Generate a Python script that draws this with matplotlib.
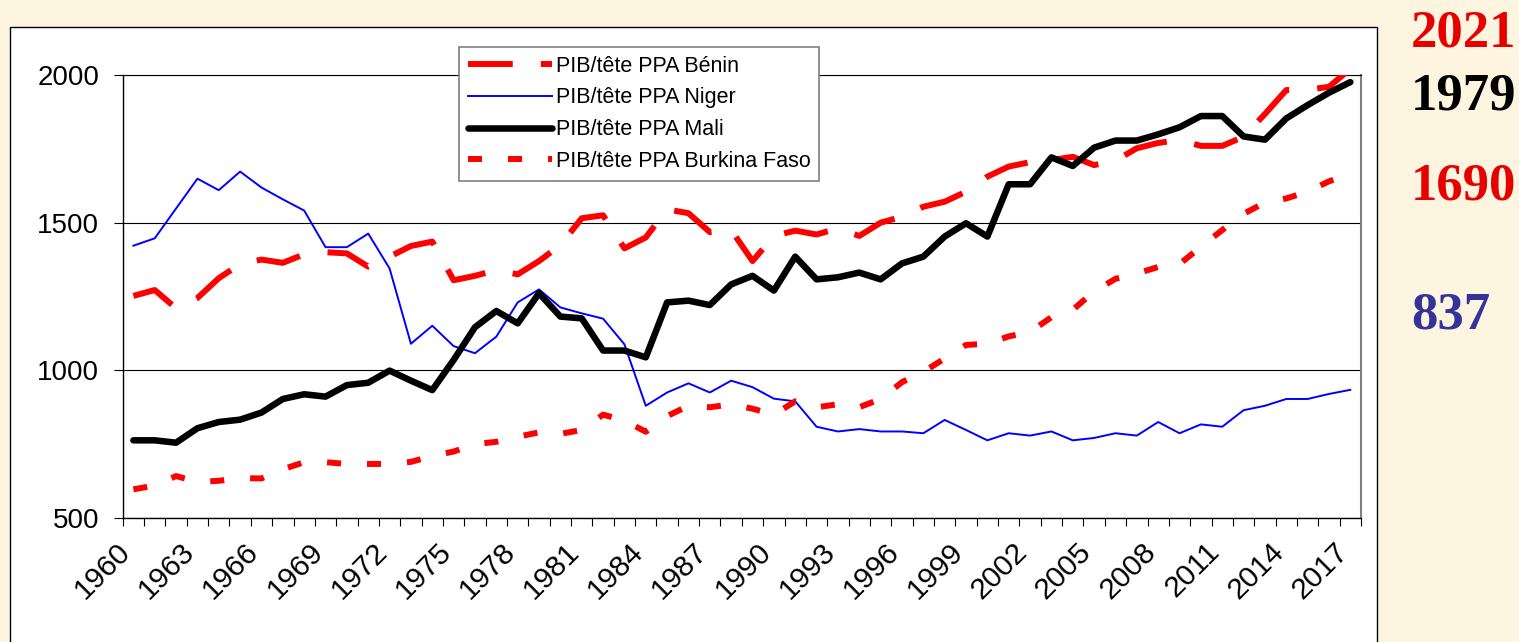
import numpy as np
import matplotlib
matplotlib.use("Agg")
import matplotlib.pyplot as plt
from matplotlib.patches import Rectangle
from matplotlib.transforms import ScaledTranslation

# values (PIB/tête PPA, 1960-2017)
years = list(range(1960, 2018))

benin = [1252, 1272, 1210, 1245, 1312, 1360, 1375, 1364, 1393, 1400,
         1396, 1351, 1385, 1421, 1436, 1305, 1320, 1340, 1325, 1370,
         1424, 1515, 1525, 1413, 1450, 1545, 1532, 1468, 1475, 1370,
         1455, 1473, 1460, 1481, 1455, 1500, 1520, 1554, 1571, 1605,
         1656, 1690, 1705, 1712, 1723, 1695, 1710, 1752, 1770, 1780,
         1760, 1760, 1791, 1868, 1949, 1950, 1960, 2021]

niger = [1422, 1447, 1548, 1649, 1610, 1673, 1619, 1579, 1541, 1417,
         1417, 1463, 1345, 1090, 1151, 1082, 1058, 1114, 1230, 1274,
         1213, 1193, 1175, 1088, 880, 925, 956, 925, 965, 943,
         904, 895, 809, 793, 801, 793, 793, 787, 832, 798,
         763, 787, 779, 793, 763, 771, 787, 779, 825, 787,
         817, 809, 865, 880, 903, 903, 920, 934]

mali = [763, 763, 755, 804, 825, 833, 857, 903, 919, 911,
        950, 958, 999, 965, 933, 1035, 1146, 1201, 1159, 1261,
        1182, 1176, 1067, 1067, 1044, 1230, 1236, 1221, 1291, 1320,
        1270, 1385, 1308, 1315, 1331, 1308, 1362, 1385, 1453, 1498,
        1453, 1630, 1630, 1721, 1692, 1754, 1778, 1778, 1799, 1823,
        1861, 1861, 1792, 1781, 1853, 1898, 1940, 1976]

burkina = [597, 610, 642, 622, 626, 635, 634, 665, 689, 689,
           683, 683, 683, 690, 710, 725, 750, 758, 775, 790,
           785, 798, 850, 830, 792, 845, 880, 875, 885, 870,
           850, 895, 875, 885, 875, 903, 960, 995, 1040, 1086,
           1090, 1115, 1130, 1180, 1205, 1267, 1310, 1328, 1350, 1360,
           1418, 1475, 1530, 1568, 1582, 1605, 1640, 1665]

labels = ["PIB/tête PPA Bénin", "PIB/tête PPA Niger",
          "PIB/tête PPA Mali", "PIB/tête PPA Burkina Faso"]

side_values = ["2021", "1979", "1690", "837"]
side_colors = ["#E60000", "black", "#E60000", "#333399"]
side_base = [46.7, 110, 200, 328.3]  # baseline in pixels from top

plt.rcParams['font.family'] = ['Liberation Sans', 'DejaVu Sans']

W, H = 1519, 642
fig = plt.figure(figsize=(W / 100, H / 100), dpi=100, facecolor='#FEF5E1')

# white chart area with black border
fig.patches.append(Rectangle((10 / W, -0.02), (1377 - 10) / W, 1 - 27 / H + 0.02,
                             transform=fig.transFigure, facecolor='white',
                             edgecolor='black', linewidth=1.0, zorder=-1))

ax = fig.add_axes([122.7 / W, 1 - 518 / H, (1361 - 122.7) / W, (518 - 75) / H])
ax.set_facecolor('white')

x = np.arange(len(years))
ax.plot(x, benin, color='#FF0000', lw=4.3, dashes=(7.5, 4.7),
        dash_capstyle='butt', label=labels[0], zorder=3)
ax.plot(x, niger, color='#0000FF', lw=1.4, label=labels[1], zorder=3)
ax.plot(x, mali, color='black', lw=4.7, solid_joinstyle='round',
        solid_capstyle='round', label=labels[2], zorder=3)
ax.plot(x, burkina, color='#FF0000', lw=4.3, dashes=(2.35, 4.35),
        dash_capstyle='butt', label=labels[3], zorder=3)

ax.set_xlim(-0.5, len(years) - 0.5)
ax.set_ylim(500, 2000)
ax.set_yticks([500, 1000, 1500, 2000])
ax.yaxis.grid(True, color='black', lw=0.8)
ax.set_axisbelow(True)

ax.set_xticks(x[::3])
ax.set_xticklabels([str(y) for y in years[::3]], rotation=45, ha='right',
                   va='center', rotation_mode='anchor')
ax.set_xticks(np.arange(-0.5, len(years), 1), minor=True)
ax.tick_params(axis='x', which='major', length=0, pad=21, labelsize=21.5)
ax.tick_params(axis='x', which='minor', length=6, width=0.8, direction='out')
ax.tick_params(axis='y', length=6.5, width=0.8, direction='out', pad=10.5, labelsize=20)
for lab in ax.get_xticklabels():
    lab.set_transform(lab.get_transform() + ScaledTranslation(-0.07, 0, fig.dpi_scale_trans))

ax.spines['top'].set_linewidth(0.8)
ax.spines['right'].set_color('#808080')
ax.spines['right'].set_linewidth(1.5)
ax.spines['left'].set_linewidth(1.0)
ax.spines['bottom'].set_linewidth(1.0)

leg = ax.legend(loc='upper left', bbox_to_anchor=(459 / W, 1 - 47 / H),
                bbox_transform=fig.transFigure, fontsize=15.5, frameon=True,
                fancybox=False, framealpha=1, edgecolor='#808080',
                handlelength=3.9, handletextpad=0.2, labelspacing=0.5,
                borderpad=0.4, borderaxespad=0)
leg.get_frame().set_linewidth(1.2)

for val, col, base in zip(side_values, side_colors, side_base):
    fig.text(1411 / W, 1 - base / H, val, color=col, fontsize=38,
             fontweight='bold', family='Liberation Serif', ha='left', va='baseline')

fig.savefig('out.png', dpi=100, facecolor=fig.get_facecolor())
